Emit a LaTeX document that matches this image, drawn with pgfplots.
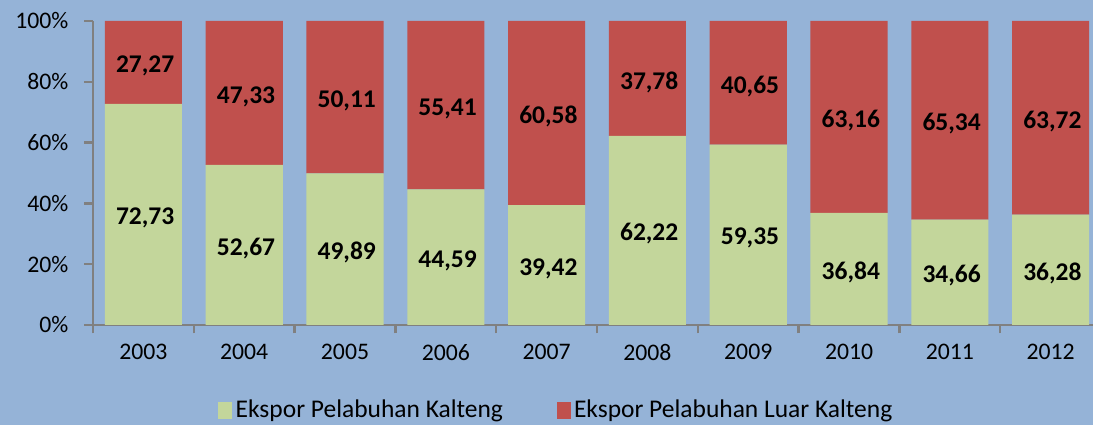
\documentclass[border=0pt]{standalone}
\usepackage{pgfplots}
\usepackage{pgfplotstable}
\pgfplotsset{compat=1.18}
\usepackage{fontspec}
\setmainfont{Carlito}
\usetikzlibrary{backgrounds}
\definecolor{bg}{RGB}{149,179,215}
\definecolor{gr}{RGB}{195,214,155}
\definecolor{rd}{RGB}{192,80,77}
\definecolor{axc}{RGB}{128,128,128}
\pgfplotsset{/pgf/number format/assume math mode=true}
\pgfplotstableread{
x g r
0 72.73 27.27
1 52.67 47.33
2 49.89 50.11
3 44.59 55.41
4 39.42 60.58
5 62.22 37.78
6 59.35 40.65
7 36.84 63.16
8 34.66 65.34
9 36.28 63.72
}\datatable
\begin{document}
\begin{tikzpicture}
\begin{axis}[
  at={(0,0)}, anchor=south west,
  scale only axis, width=20cm, height=6.08cm,
  ybar stacked, bar width=0.765,
  xmin=-0.5, xmax=9.42, ymin=0, ymax=100,
  axis x line*=bottom, axis y line*=left,
  axis line style={axc, line width=1.4pt},
  tick style={axc, line width=1.4pt},
  tick align=outside, major tick length=0.17cm,
  ytick={0,20,...,100},
  yticklabel={\pgfmathprintnumber{\tick}\%},
  xtick={-0.5,0.5,...,8.5},
  xticklabels={},
  extra x ticks={0,1,...,9},
  extra x tick labels={2003,2004,2005,2006,2007,2008,2009,2010,2011,2012},
  extra x tick style={major tick length=0pt, xticklabel style={yshift=-0.26cm}},
  tick label style={font=\fontsize{13.5}{16}\selectfont, black},
  yticklabel style={xshift=-0.2cm},
  legend style={at={(0.464,-0.28)}, anchor=center, draw=none, fill=none, legend columns=2,
    font=\fontsize{14.5}{17}\selectfont,
    /tikz/every even column/.append style={column sep=1.0cm}},
]
\addplot[fill=gr, draw=none, legend image code/.code={\fill[gr] (0cm,-0.17cm) rectangle (0.28cm,0.17cm);}] table[x=x, y=g] {\datatable};
\addlegendentry{Ekspor Pelabuhan Kalteng}
\addplot[fill=rd, draw=none, legend image code/.code={\fill[rd] (0cm,-0.17cm) rectangle (0.28cm,0.17cm);}] table[x=x, y=r] {\datatable};
\addlegendentry{Ekspor Pelabuhan Luar Kalteng}
\end{axis}
\begin{axis}[
  at={(0,0)}, anchor=south west,
  scale only axis, width=20cm, height=6.08cm,
  xmin=-0.5, xmax=9.42, ymin=0, ymax=100,
  hide axis, clip=false,
  point meta=explicit,
  nodes near coords={\pgfmathprintnumber[fixed,fixed zerofill,precision=2,use comma]{\pgfplotspointmeta}},
  every node near coord/.append style={font=\fontsize{14.5}{17}\selectfont\bfseries, black, anchor=center, yshift=-2pt, xshift=1pt},
]
\addplot[only marks, mark=none] table[x=x, y expr=\thisrow{g}/2, meta=g] {\datatable};
\addplot[only marks, mark=none] table[x=x, y expr=\thisrow{g}+\thisrow{r}/2, meta=r] {\datatable};
\end{axis}
\begin{pgfonlayer}{background}
\fill[bg] (-1.86,-2) rectangle (20,6.5);
\end{pgfonlayer}
\pgfresetboundingbox
\path[use as bounding box] (-1.86,-2) rectangle (20,6.5);
\end{tikzpicture}
\end{document}
